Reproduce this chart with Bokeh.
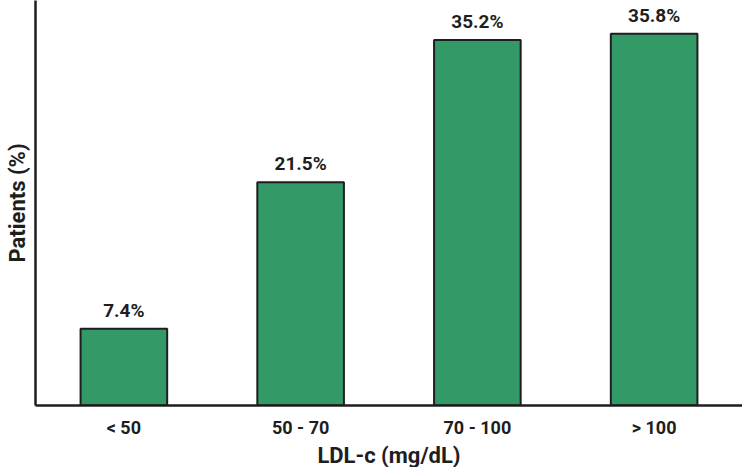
from bokeh.plotting import figure
from bokeh.models import FactorRange, Range1d, ColumnDataSource, LabelSet, FixedTicker, Title
from bokeh.core.properties import value
from bokeh.embed import file_html
from bokeh.resources import INLINE

categories = ["< 50", "50 - 70", "70 - 100", "> 100"]
values = [7.4, 21.5, 35.2, 35.8]
value_labels = ["7.4%", "21.5%", "35.2%", "35.8%"]
x_title = "LDL-c (mg/dL)"
y_title = "Patients (%)"

FONT = "Roboto"
TEXT = "#1e1e1e"

src = ColumnDataSource(dict(cat=categories, val=values, lab=value_labels))

p = figure(width=742, height=467, output_backend="svg", toolbar_location=None,
           x_range=FactorRange(factors=categories, range_padding=0),
           y_range=Range1d(0, 39.0),
           min_border_left=35, min_border_right=0, min_border_top=0, min_border_bottom=59)
p.outline_line_color = None
p.grid.visible = False
p.background_fill_color = "white"

p.vbar(x="cat", top="val", width=0.49, source=src, fill_color="#339966",
       line_color="#1e1e1e", line_width=2)

labels = LabelSet(x="cat", y="val", text="lab", source=src, text_align="center",
                  text_baseline="alphabetic", y_offset=12, text_font=value(FONT),
                  text_font_style="bold", text_font_size="19px", text_color=TEXT)
p.add_layout(labels)

# x axis
xa = p.xaxis[0]
xa.axis_line_width = 2.5
xa.axis_line_color = "#1e1e1e"
xa.major_tick_line_color = None
xa.minor_tick_line_color = None
xa.major_label_text_font = FONT
xa.major_label_text_font_style = "bold"
xa.major_label_text_font_size = "18px"
xa.major_label_text_color = TEXT
xa.major_label_standoff = 5

# x-axis title as a below-panel title
xt = Title(text=x_title, align="center", standoff=0, text_font=FONT,
           text_font_style="bold", text_font_size="22px", text_color=TEXT)
p.add_layout(xt, "below")

# y axis
ya = p.yaxis[0]
ya.ticker = FixedTicker(ticks=[])
ya.axis_line_width = 2.5
ya.axis_line_color = "#1e1e1e"
ya.major_tick_line_color = None
ya.minor_tick_line_color = None
ya.major_label_standoff = 0
ya.axis_label = y_title
ya.axis_label_text_font = FONT
ya.axis_label_text_font_style = "bold"
ya.axis_label_text_font_size = "22px"
ya.axis_label_text_color = TEXT
ya.axis_label_standoff = 6

open("out.html", "w").write(file_html(p, INLINE))
